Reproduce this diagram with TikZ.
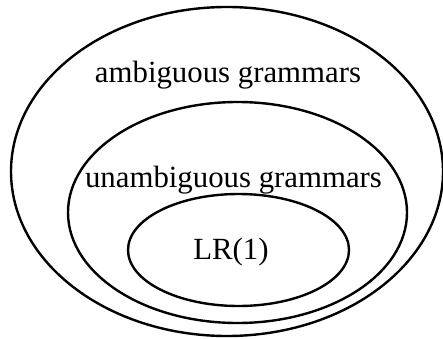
\documentclass[tikz,border=0pt]{standalone}
\usepackage{fontspec}
\setmainfont{Liberation Serif}
\usetikzlibrary{shapes.geometric,positioning}
\tikzstyle{gset} = [draw, ellipse, line width=1.2pt, inner sep=0pt]
\tikzstyle{setname} = [anchor=base, inner sep=0pt, font=\fontsize{15.4}{18}\selectfont]
\newcommand{\gset}[3]{node (s#1) [gset, minimum width=#2, minimum height=#3] {}}
\newcommand{\setname}[2]{node (n#1) [setname] {#2}}

\begin{document}
\begin{tikzpicture}[x=1pt,y=1pt]
\useasboundingbox (0,0) rectangle (221.5,169);
\path (113.5,83.25) \gset{1}{216pt}{164.5pt};
\path (118.75,62.75) \gset{2}{169.5pt}{110.5pt};
\path (119.25,44) \gset{3}{110.5pt}{56pt};
\path (114,128) \setname{1}{ambiguous grammars};
\path (116.75,75.5) \setname{2}{unambiguous grammars};
\path (115.5,39.5) \setname{3}{LR(1)};
\end{tikzpicture}
\end{document}
